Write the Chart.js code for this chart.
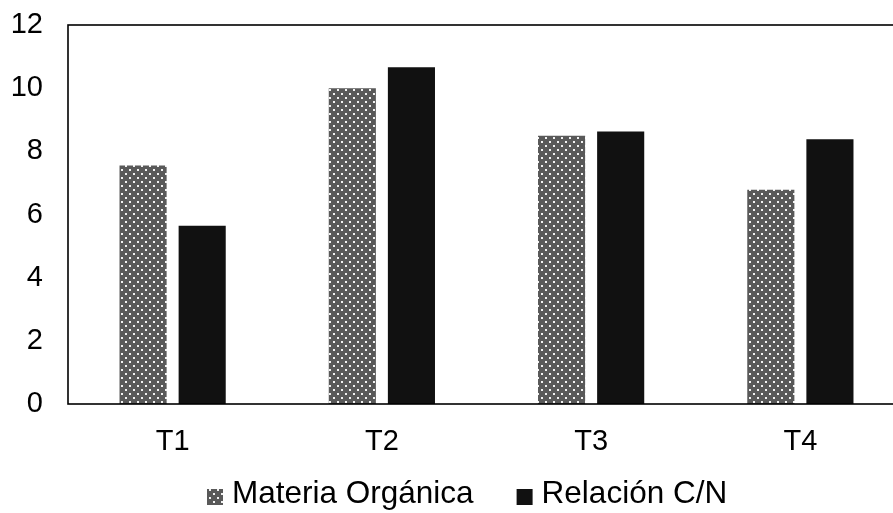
<!DOCTYPE html>
<html>
<head>
<meta charset="utf-8">
<script src="https://cdn.jsdelivr.net/npm/chart.js@4/dist/chart.umd.min.js"></script>
<style>
  html, body { margin: 0; padding: 0; background: #fff; overflow: hidden; }
  #wrap { width: 893px; height: 513px; overflow: hidden; }
  canvas { display: block; }
</style>
</head>
<body>
<div id="wrap"><canvas id="c" width="905" height="513"></canvas></div>
<script>
const categories = ['T1', 'T2', 'T3', 'T4'];
const materiaOrganica = [7.55, 10.0, 8.49, 6.78];
const relacionCN = [5.64, 10.66, 8.63, 8.38];
const seriesNames = ['Materia Orgánica', 'Relación C/N'];
const yTicks = [0, 2, 4, 6, 8, 10, 12];

function makePattern() {
  const p = document.createElement('canvas');
  p.width = 8; p.height = 8;
  const g = p.getContext('2d');
  g.fillStyle = '#595959';
  g.fillRect(0, 0, 8, 8);
  g.fillStyle = '#f2f2f2';
  g.fillRect(1, 1, 2, 2);
  g.fillRect(5, 5, 2, 2);
  return g.createPattern(p, 'repeat');
}
const dotted = makePattern();

const framePlugin = {
  id: 'frame',
  afterDatasetsDraw(chart) {
    const { ctx, chartArea: a } = chart;
    ctx.save();
    ctx.strokeStyle = '#000';
    ctx.lineWidth = 1.6;
    ctx.strokeRect(a.left, a.top, a.right - a.left, a.bottom - a.top);
    ctx.restore();
  }
};

const legendPlugin = {
  id: 'customLegend',
  afterDraw(chart) {
    const { ctx } = chart;
    const items = chart.data.datasets.map(d => ({ label: d.label, color: d.backgroundColor }));
    ctx.save();
    ctx.font = '31.5px "Liberation Sans", Arial, sans-serif';
    ctx.textBaseline = 'middle';
    const box = 16, gap = 9, itemGap = 43;
    const widths = items.map(it => ctx.measureText(it.label).width);
    let x = 207;
    const y = 497;
    items.forEach((it, i) => {
      ctx.fillStyle = it.color;
      ctx.fillRect(x, y - 8, box, box);
      ctx.fillStyle = '#000';
      ctx.fillText(it.label, x + box + gap, y - 3);
      x += box + gap + widths[i] + itemGap;
    });
    ctx.restore();
  }
};

new Chart(document.getElementById('c'), {
  type: 'bar',
  data: {
    labels: categories,
    datasets: [
      { label: seriesNames[0], data: materiaOrganica, backgroundColor: dotted, borderWidth: 0 },
      { label: seriesNames[1], data: relacionCN, backgroundColor: '#111111', borderWidth: 0 }
    ]
  },
  options: {
    responsive: false,
    animation: false,
    devicePixelRatio: 1,
    layout: { padding: { top: 25, right: 0, bottom: 0, left: 0 } },
    datasets: { bar: { categoryPercentage: 0.565, barPercentage: 0.797 } },
    plugins: { legend: { display: false }, tooltip: { enabled: false } },
    scales: {
      x: {
        grid: { display: false, drawTicks: false },
        border: { display: false },
        ticks: { color: '#000', font: { family: '"Liberation Sans", Arial, sans-serif', size: 29 }, padding: 21 },
        afterFit(s) { s.height = 109; s.paddingLeft = 0; s.paddingRight = 0; }
      },
      y: {
        min: 0, max: 12,
        afterBuildTicks(s) { s.ticks = yTicks.map(v => ({ value: v })); },
        grid: { display: false, drawTicks: false },
        border: { display: false },
        ticks: { color: '#000', font: { family: '"Liberation Sans", Arial, sans-serif', size: 29 }, padding: 25 },
        afterFit(s) { s.width = 68; s.paddingTop = 0; s.paddingBottom = 0; }
      }
    }
  },
  plugins: [framePlugin, legendPlugin]
});
</script>
</body>
</html>
